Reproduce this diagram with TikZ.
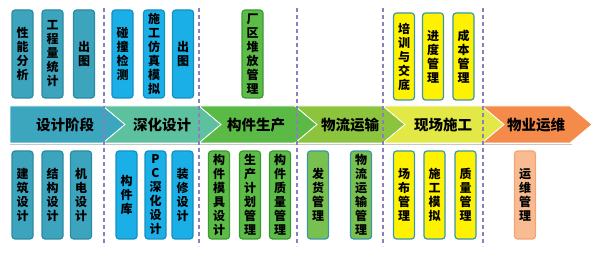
\documentclass[tikz,border=0pt]{standalone}
\usepackage{fontspec}
\setmainfont{Noto Sans CJK SC}
\usepackage{tikz}

\definecolor{sjfill}{HTML}{3CA5BD}
\definecolor{sjline}{HTML}{2A8AA0}
\definecolor{shfill}{HTML}{1AAFE6}
\definecolor{shline}{HTML}{1590C0}
\definecolor{scfill}{HTML}{5DBB48}
\definecolor{scline}{HTML}{3C9A34}
\definecolor{wlfill}{HTML}{78C150}
\definecolor{xcfill}{HTML}{FFF200}
\definecolor{tealline}{HTML}{3A96A8}
\definecolor{ywfill}{HTML}{F9BC92}
\definecolor{ywline}{HTML}{F3A474}
\definecolor{dashcol}{HTML}{8C7FBF}

\tikzset{
    vbox/.style={rounded corners=3pt, line width=1.2pt, minimum width=21pt,
        inner sep=0pt, align=center, font=\bfseries\fontsize{12}{14}\selectfont},
    topbox/.style={vbox, minimum height=88pt},
    botbox/.style={vbox, minimum height=88pt},
    stagelabel/.style={font=\bfseries\fontsize{14.5}{16}\selectfont, inner sep=1pt}
}

\begin{document}
\begin{tikzpicture}[x=1pt, y=-1pt]
    \useasboundingbox (0,0) rectangle (600,253);

    % Draw stage band
    \draw[black!22, line width=1pt] (10,145) -- (572,145);
    \fill[draw=white, line width=0.8pt, fill={rgb,255:red,59;green,166;blue,190}]
        (10,106) -- (103,106) -- (125,124.5) -- (103,143) -- (10,143) -- cycle;
    \foreach \a/\b/\col in {103/199/{rgb,255:red,93;green,193;blue,160},
                            199/295/{rgb,255:red,91;green,186;blue,70},
                            295/383/{rgb,255:red,141;green,196;blue,62},
                            383/482/{rgb,255:red,226;green,232;blue,69},
                            482/570/{rgb,255:red,244;green,139;blue,74}}
        \fill[draw=white, line width=0.8pt, fill=\col]
            (\a,106) -- (\b,106) -- (\b+22,124.5) -- (\b,143) -- (\a,143)
            -- (\a+22,124.5) -- cycle;

    \node[stagelabel] (sheji)     at (65,125)  {设计阶段};
    \node[stagelabel] (shenhua)   at (162,125) {深化设计};
    \node[stagelabel] (shengchan) at (256,125) {构件生产};
    \node[stagelabel] (wuliu)     at (350,125) {物流运输};
    \node[stagelabel] (shigong)   at (443,125) {现场施工};
    \node[stagelabel] (yunwei)    at (536,125) {物业运维};

    % Top tasks
    \node[topbox, draw=sjline, fill=sjfill] (xnfx) at (22.5,54)  {性\\能\\分\\析};
    \node[topbox, draw=sjline, fill=sjfill] (gclt) at (52.5,54)  {工\\程\\量\\统\\计};
    \node[topbox, draw=sjline, fill=sjfill] (ctu)  at (84,54)    {出\\图};
    \node[topbox, draw=shline, fill=shfill] (pzjc) at (122.5,54) {碰\\撞\\检\\测};
    \node[topbox, draw=shline, fill=shfill] (sgfz) at (154,54)   {施\\工\\仿\\真\\模\\拟};
    \node[topbox, draw=shline, fill=shfill] (ctv)  at (183,54)   {出\\图};
    \node[topbox, draw=scline, fill=scfill] (cqdf) at (252.5,54) {厂\\区\\堆\\放\\管\\理};
    \node[topbox, draw=tealline, fill=xcfill, minimum height=87pt] (pxjd) at (404,56.5) {培\\训\\与\\交\\底};
    \node[topbox, draw=tealline, fill=xcfill, minimum height=87pt] (jdgl) at (433,56.5) {进\\度\\管\\理};
    \node[topbox, draw=tealline, fill=xcfill, minimum height=87pt] (cbgl) at (463.5,56.5) {成\\本\\管\\理};

    % Bottom tasks
    \node[botbox, draw=sjline, fill=sjfill] (jzsj) at (22.5,195)  {建\\筑\\设\\计};
    \node[botbox, draw=sjline, fill=sjfill] (jgsj) at (52.5,195)  {结\\构\\设\\计};
    \node[botbox, draw=sjline, fill=sjfill] (jdsj) at (81,195)    {机\\电\\设\\计};
    \node[botbox, draw=shline, fill=shfill] (gjk)  at (126.5,195) {构\\件\\库};
    \node[botbox, draw=shline, fill=shfill] (pcsh) at (155.5,195) {P\\C\\深\\化\\设\\计};
    \node[botbox, draw=shline, fill=shfill] (zxsj) at (182.5,195) {装\\修\\设\\计};
    \node[botbox, draw=scline, fill=scfill] (gjmj) at (219,195)   {构\\件\\模\\具\\设\\计};
    \node[botbox, draw=scline, fill=scfill] (scjh) at (250,195)   {生\\产\\计\\划\\管\\理};
    \node[botbox, draw=scline, fill=scfill] (gjzl) at (280,195)   {构\\件\\质\\量\\管\\理};
    \node[botbox, draw=tealline, fill=wlfill] (fhgl) at (318,195) {发\\货\\管\\理};
    \node[botbox, draw=tealline, fill=wlfill] (wlys) at (361,195) {物\\流\\运\\输\\管\\理};
    \node[botbox, draw=tealline, fill=xcfill] (cbgu) at (404,195) {场\\布\\管\\理};
    \node[botbox, draw=tealline, fill=xcfill] (sgmn) at (434.5,195) {施\\工\\模\\拟};
    \node[botbox, draw=tealline, fill=xcfill] (zlgl) at (465.5,195) {质\\量\\管\\理};
    \node[botbox, draw=ywline, fill=ywfill] (ywgl) at (525,195)   {运\\维\\管\\理};

    % Stage separators
    \foreach \x in {104,199,297,383,483}
        \draw[dashcol, line width=1.3pt, dash pattern=on 4pt off 3pt] (\x,8) -- (\x,246);
\end{tikzpicture}
\end{document}
